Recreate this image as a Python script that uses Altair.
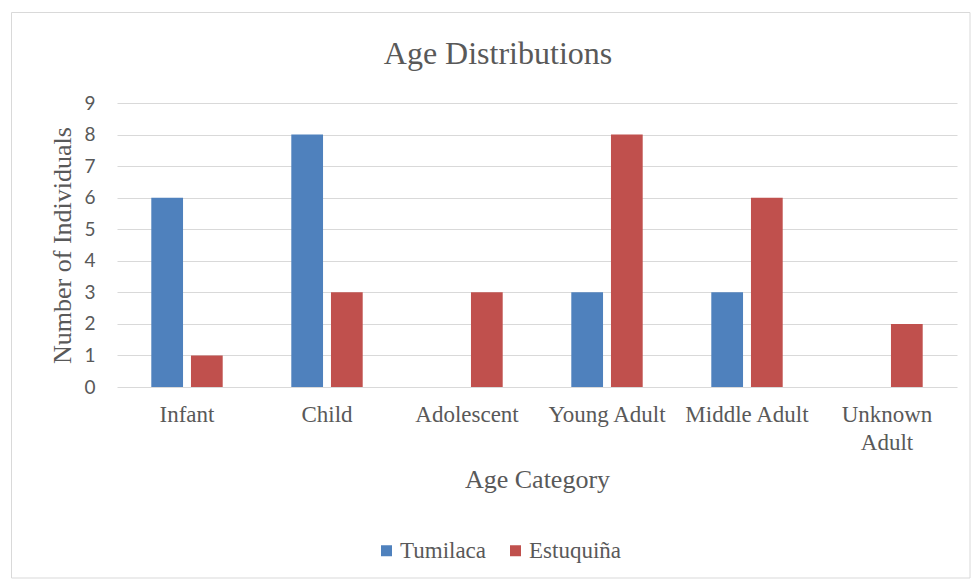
import altair as alt
import pandas as pd

categories = ["Infant", "Child", "Adolescent", "Young Adult", "Middle Adult", "Unknown Adult"]
series = ["Tumilaca", "Estuquiña"]
tumilaca = [6, 8, 0, 3, 3, 0]
estuquina = [1, 3, 3, 8, 6, 2]
colors = ["#4F81BD", "#C0504D"]
y_ticks = [0, 1, 2, 3, 4, 5, 6, 7, 8, 9]

rows = []
for c, t, e in zip(categories, tumilaca, estuquina):
    rows.append({"category": c, "series": "Tumilaca", "value": t})
    rows.append({"category": c, "series": "Estuquiña", "value": e})
df = pd.DataFrame(rows)

SERIF = "Liberation Serif"
TEXT = "#595959"

bars = alt.Chart(df).mark_bar().encode(
    x=alt.X("category:N", sort=categories,
            scale=alt.Scale(paddingInner=0.49, paddingOuter=0.245),
            axis=alt.Axis(title="Age Category", labelAngle=0, domain=False, ticks=False,
                          labelFont=SERIF, labelFontSize=23, labelColor=TEXT,
                          labelPadding=16, labelLineHeight=28,
                          labelExpr="datum.label == 'Unknown Adult' ? ['Unknown', 'Adult'] : datum.label",
                          titleFont=SERIF, titleFontSize=26, titleFontWeight="normal",
                          titleColor=TEXT, titlePadding=12)),
    xOffset=alt.XOffset("series:N", sort=series,
                        scale=alt.Scale(paddingInner=0.2, paddingOuter=0)),
    y=alt.Y("value:Q", scale=alt.Scale(domain=[0, 9], nice=False),
            axis=alt.Axis(title="Number of Individuals", values=y_ticks, labelOverlap=False,
                          domain=False, ticks=False, grid=True, gridColor="#D9D9D9",
                          labelFont="Lato", labelFontSize=19, labelColor=TEXT, labelPadding=22,
                          titleFont=SERIF, titleFontSize=26, titleFontWeight="normal",
                          titleColor=TEXT, titlePadding=8)),
    color=alt.Color("series:N", sort=series,
                    scale=alt.Scale(domain=series, range=colors),
                    legend=alt.Legend(title=None, orient="none", legendX=258, legendY=436,
                                      direction="horizontal", symbolType="square",
                                      symbolSize=121, symbolStrokeWidth=0,
                                      labelFont=SERIF, labelFontSize=23, labelColor=TEXT,
                                      columnPadding=17, labelOffset=2)),
)

border = alt.Chart(pd.DataFrame({"a": [0]})).mark_rect(
    fill=None, stroke="#D9D9D9", strokeWidth=1
).encode(x=alt.value(-105.5), x2=alt.value(853), y=alt.value(-90.5), y2=alt.value(475))

chart = alt.layer(border, bars).properties(
    width=840, height=284,
    title=alt.TitleParams("Age Distributions", font=SERIF, fontSize=32, fontWeight="normal",
                          color=TEXT, anchor="middle", frame="group", dx=-39, offset=0, dy=59),
    autosize=alt.AutoSizeParams(type="none"),
    padding={"left": 117, "top": 103, "right": 16, "bottom": 193},
).configure_view(stroke=None).configure_legend(
    labelFont=SERIF, labelFontSize=23, labelColor=TEXT
)

chart.save("out.html", embed_options={"renderer": "svg", "actions": False})
